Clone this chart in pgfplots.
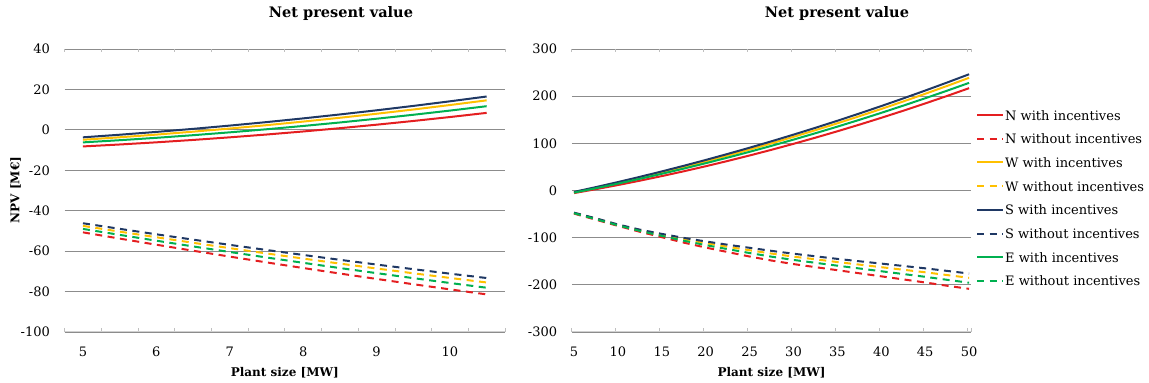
\documentclass[border=0pt]{standalone}
\usepackage{fontspec}
\setmainfont{DejaVu Serif}
\usepackage{pgfplots}
\usepackage{pgfplotstable}
\pgfplotsset{compat=1.18}

\definecolor{cN}{RGB}{228,30,32}
\definecolor{cW}{RGB}{255,192,0}
\definecolor{cS}{RGB}{31,56,100}
\definecolor{cE}{RGB}{0,176,80}

\pgfplotstableread{
x     Nw     Nwo     Ww     Wwo     Sw     Swo     Ew     Ewo
5     -8.20  -50.70  -4.90  -47.50  -3.70  -46.20  -6.20  -49.00
5.5   -7.24  -53.79  -3.68  -50.35  -2.41  -48.96  -5.12  -51.95
6     -6.17  -56.82  -2.35  -53.13  -1.02  -51.67  -3.94  -54.83
6.5   -4.99  -59.79  -0.90  -55.86   0.49  -54.31  -2.64  -57.66
7     -3.70  -62.70   0.65  -58.52   2.11  -56.89  -1.23  -60.42
7.5   -2.31  -65.56   2.31  -61.13   3.83  -59.42   0.29  -63.13
8     -0.80  -68.35   4.09  -63.67   5.67  -61.88   1.92  -65.77
8.5    0.82  -71.08   5.97  -66.16   7.62  -64.29   3.65  -68.36
9      2.55  -73.75   7.96  -68.58   9.67  -66.63   5.50  -70.88
9.5    4.39  -76.36  10.06  -70.95  11.84  -68.91   7.46  -73.35
10     6.34  -78.91  12.28  -73.26  14.12  -71.14   9.53  -75.76
10.5   8.40  -81.40  14.60  -75.50  16.50  -73.30  11.70  -78.10
}\leftdata

\pgfplotstableread{
x     Nw      Nwo     Ww      Wwo     Sw      Swo     Ew      Ewo
5     -5.50   -49.0   -4.00   -47.6   -3.00   -47.0   -4.50   -48.2
7.5    2.79   -62.0    5.84   -59.8    7.21   -59.0    4.84   -60.8
10    11.56   -75.0   16.11   -72.8   17.86   -72.0   14.60   -73.8
12.5  20.80   -87.5   26.81   -84.3   28.93   -83.0   24.78   -85.7
15    30.53   -99.0   37.94   -94.0   40.43   -92.0   35.38   -96.2
17.5  40.73  -110.5   49.50  -103.3   52.36  -100.5   46.41  -106.5
20    51.42  -121.0   61.49  -111.6   64.72  -108.0   57.86  -115.8
22.5  62.58  -130.5   73.91  -119.3   77.50  -115.0   69.73  -124.3
25    74.22  -140.0   86.76  -126.7   90.72  -121.5   82.02  -132.6
27.5  86.34  -148.5  100.04  -133.7  104.36  -128.0   94.74  -140.3
30    98.94  -156.0  113.75  -140.2  118.44  -134.0  107.88  -147.2
32.5 112.01  -162.5  127.89  -145.9  132.94  -139.5  121.44  -153.3
35   125.57  -169.0  142.46  -151.7  147.87  -145.0  135.42  -159.4
37.5 139.60  -175.5  157.46  -157.1  163.23  -150.0  149.83  -165.3
40   154.12  -182.0  172.89  -162.6  179.02  -155.0  164.66  -171.2
42.5 169.11  -188.5  188.75  -168.0  195.23  -160.0  179.91  -177.1
45   184.58  -195.0  205.04  -173.4  211.88  -165.0  195.58  -183.0
47.5 200.53  -202.0  221.76  -179.3  228.95  -170.5  211.68  -189.4
50   216.96  -208.5  238.91  -185.1  246.46  -176.0  228.20  -195.5
}\rightdata

\pgfplotsset{
  npvbase/.style={
    scale only axis,
    anchor=south west,
    height=283pt,
    axis line style={draw=none},
    major tick length=0pt,
    minor tick length=3.5pt,
    tick align=inside,
    minor x tick style={black!25, line width=0.8pt},
    ymajorgrids,
    grid style={black!45, line width=0.9pt},
    ticklabel style={font=\fontsize{13}{15}\selectfont},
    yticklabel style={anchor=east, inner sep=0pt, xshift=-14.5pt},
    xticklabel style={anchor=north, inner sep=0pt, yshift=-15pt},
    title style={font=\bfseries\fontsize{14.5}{17}\selectfont, anchor=center},
    xlabel style={font=\bfseries\fontsize{12}{14}\selectfont, at={(axis description cs:0.5,-0.1449)}, anchor=center},
    xlabel={Plant size [MW]},
    title={Net present value},
  },
  sN/.style={cN, line width=2pt},
  sNd/.style={cN, line width=2pt, dash pattern=on 7pt off 5.5pt},
  sW/.style={cW, line width=2pt},
  sWd/.style={cW, line width=2pt, dash pattern=on 7pt off 5.5pt},
  sS/.style={cS, line width=2pt},
  sSd/.style={cS, line width=2pt, dash pattern=on 7pt off 5.5pt},
  sE/.style={cE, line width=2pt},
  sEd/.style={cE, line width=2pt, dash pattern=on 7pt off 5.5pt},
}

\begin{document}
\begin{tikzpicture}
% Left chart
\begin{axis}[
  npvbase,
  at={(64.6pt,51pt)},
  width=440.4pt,
  xmin=4.75, xmax=10.75,
  ymin=-100, ymax=40,
  xtick={5,6,7,8,9,10},
  xticklabels={5,6,7,8,9,10},
  minor xtick={4.75,5.25,5.75,6.25,6.75,7.25,7.75,8.25,8.75,9.25,9.75,10.25,10.75},
  ytick={-100,-80,-60,-40,-20,0,20,40},
  yticklabels={-100,-80,-60,-40,-20,0,20,40},
  title style={at={(axis description cs:0.6276,1.1025)}},
  ylabel={NPV [M€]},
  ylabel style={font=\bfseries\fontsize{12}{14}\selectfont, at={(axis description cs:-0.1115,0.5018)}, anchor=center},
]
\addplot[sN]  table[x=x, y=Nw]  {\leftdata};
\addplot[sNd] table[x=x, y=Nwo] {\leftdata};
\addplot[sW]  table[x=x, y=Ww]  {\leftdata};
\addplot[sWd] table[x=x, y=Wwo] {\leftdata};
\addplot[sS]  table[x=x, y=Sw]  {\leftdata};
\addplot[sSd] table[x=x, y=Swo] {\leftdata};
\addplot[sE]  table[x=x, y=Ew]  {\leftdata};
\addplot[sEd] table[x=x, y=Ewo] {\leftdata};
\draw[black!18, line width=1.3pt] (rel axis cs:0,0) -- (rel axis cs:1,0);
\end{axis}

% Right chart
\begin{axis}[
  npvbase,
  at={(571.8pt,51pt)},
  width=399.5pt,
  xmin=4.75, xmax=50.25,
  ymin=-300, ymax=300,
  xtick={5,10,15,20,25,30,35,40,45,50},
  xticklabels={5,10,15,20,25,30,35,40,45,50},
  minor xtick={4.75,9.75,14.75,19.75,24.75,29.75,34.75,39.75,44.75,49.75,50.25},
  ytick={-300,-200,-100,0,100,200,300},
  yticklabels={-300,-200,-100,0,100,200,300},
  title style={at={(axis description cs:0.6638,1.1025)}},
  legend style={
    at={(axis description cs:1,0.4735)}, anchor=west, xshift=4.7pt,
    draw=none, fill=none, inner sep=0pt,
    font=\fontsize{13}{15}\selectfont,
    row sep=13.7pt, column sep=1.5pt,
    nodes={inner sep=0pt, text height=10pt, text depth=0pt},
  },
  legend cell align=left,
  legend image code/.code={\draw[#1] (0pt,0pt) -- (25.5pt,0pt);},
]
\addplot[sN]  table[x=x, y=Nw]  {\rightdata};
\addlegendentry{N with incentives}
\addplot[sNd] table[x=x, y=Nwo] {\rightdata};
\addlegendentry{N without incentives}
\addplot[sW]  table[x=x, y=Ww]  {\rightdata};
\addlegendentry{W with incentives}
\addplot[sWd] table[x=x, y=Wwo] {\rightdata};
\addlegendentry{W without incentives}
\addplot[sS]  table[x=x, y=Sw]  {\rightdata};
\addlegendentry{S with incentives}
\addplot[sSd] table[x=x, y=Swo] {\rightdata};
\addlegendentry{S without incentives}
\addplot[sE]  table[x=x, y=Ew]  {\rightdata};
\addlegendentry{E with incentives}
\addplot[sEd] table[x=x, y=Ewo] {\rightdata};
\addlegendentry{E without incentives}
\draw[black!18, line width=1.3pt] (rel axis cs:0,0) -- (rel axis cs:1,0);
\end{axis}

\pgfresetboundingbox
\useasboundingbox (0pt,0pt) rectangle (1149pt,383pt);
\end{tikzpicture}
\end{document}
